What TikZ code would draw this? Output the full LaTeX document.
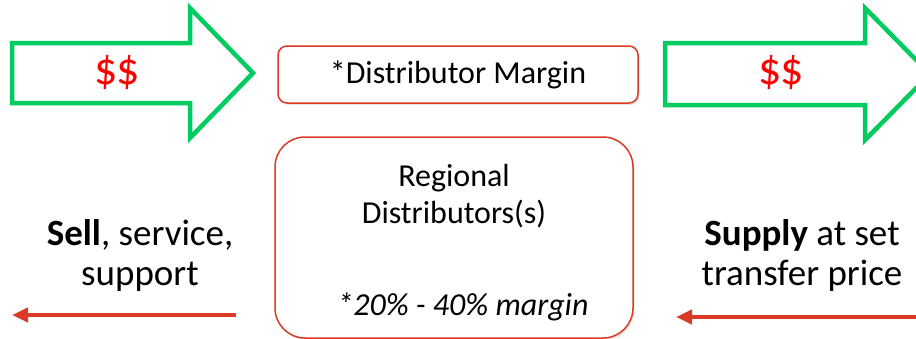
\documentclass[tikz,border=0pt]{standalone}
\usepackage{fontspec}
\setmainfont{Carlito}
\usetikzlibrary{arrows.meta,shadows}
\definecolor{flowgreen}{RGB}{0,204,96}
\definecolor{boxred}{RGB}{218,58,38}
\definecolor{cashred}{RGB}{255,0,0}
\tikzset{
    softshadow/.style={drop shadow={opacity=0.2, shadow xshift=1.5pt, shadow yshift=-2pt}},
}

\begin{document}
\begin{tikzpicture}[x=1pt, y=-1pt, >={Triangle[length=16pt, width=14pt]}]
\useasboundingbox (0,0) rectangle (916,338);
\clip (0,0) rectangle (916,338);

% money flow arrows
\begin{scope}[line width=4.5pt, line join=miter]
    \draw[draw=flowgreen, fill=white, softshadow] (12,43) -- (190,43) -- (190,8) -- (253,73) -- (190,138) -- (190,103) -- (12,103) -- cycle;
    \draw[draw=flowgreen, fill=white, softshadow] (665,43) -- (865,43) -- (865,8) -- (930,74) -- (865,140) -- (865,105) -- (665,105) -- cycle;
\end{scope}

\begin{scope}[every node/.style={text=cashred, font=\fontsize{46}{50}\selectfont}]
    \node (cash1) at (117,73) {\$\kern-1pt\$};
    \node (cash2) at (781,73) {\$\kern-1pt\$};
\end{scope}

\begin{scope}[every node/.style={draw=boxred, line width=1.5pt, fill=white, softshadow, inner sep=0pt}]
    \node (margin) at (458,74.5) [minimum width=360pt, minimum height=57pt, rounded corners=9pt,
        font=\fontsize{32}{38}\selectfont] {*Distributor Margin};
    \node (dist) at (454,237.5) [minimum width=358pt, minimum height=201pt, rounded corners=30pt] {};
\end{scope}

\begin{scope}[every node/.style={align=center}]
    \node (distname) at (454,196.5) [font=\fontsize{32}{37}\selectfont] {Regional\\Distributors(s)};
    \node (distpct) at (463,307) [font=\fontsize{32}{36}\selectfont\itshape] {*20\% - 40\% margin};
    \node (sell) at (140,255) [font=\fontsize{37}{40}\selectfont] {\textbf{Sell}, service,\\support};
    \node (supply) at (802,255) [font=\fontsize{37}{40}\selectfont] {\textbf{Supply} at set\\transfer price};
\end{scope}

% goods flow
\begin{scope}[line width=4pt]
    \coordinate (sellstart) at (236,315);
    \coordinate (sellend) at (12,315);
    \coordinate (supplystart) at (925,317);
    \coordinate (supplyend) at (676,317);
    \path [->, draw=boxred, fill=boxred, softshadow] (sellstart) -- (sellend);
    \path [->, draw=boxred, fill=boxred, softshadow] (supplystart) -- (supplyend);
\end{scope}
\end{tikzpicture}
\end{document}
